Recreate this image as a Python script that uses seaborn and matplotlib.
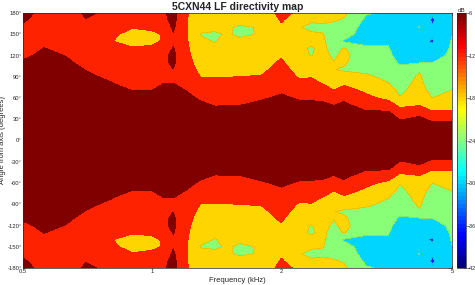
import numpy as np
import matplotlib
matplotlib.use("Agg")
import matplotlib.pyplot as plt
import seaborn as sns
from matplotlib.colors import LinearSegmentedColormap, Normalize

# frequency columns (kHz) and angles (upper half, deg) of the level grid
freq_khz = [0.5, 0.56, 0.63, 0.7, 0.8, 0.9, 1.0, 1.06, 1.12, 1.2, 1.3, 1.4, 1.5, 1.6,
            1.8, 2.0, 2.2, 2.35, 2.5, 2.65, 2.8, 3.15, 3.55, 3.78, 4.2, 4.5, 5.0]
angle_deg = [0, 20, 40, 50, 60, 70, 80, 90, 100, 110, 120, 130, 140, 150, 160, 170, 180]

# relative level in dB, one list per frequency (angles 0..180)
db_0500 = [0, -0.5, -1, -1.5, -2, -2.5, -3, -3.8, -4.6, -5.6, -6.6, -7.5, -8, -7.6, -6.6, -5.6, -4.8]
db_0560 = [0, -0.5, -1, -1.5, -2, -2.5, -3, -3.5, -4, -4.6, -5.3, -5.9, -6.8, -7.5, -7.8, -7.6, -7.2]
db_0630 = [0, -0.5, -1.2, -1.7, -2.3, -2.9, -3.4, -4, -4.7, -5.4, -6.1, -7, -8, -8.6, -8.8, -8.4, -8]
db_0700 = [0, -0.6, -1.5, -2.2, -3, -3.7, -4.5, -5.3, -6.1, -7, -8, -8.8, -9.2, -9, -8, -6.2, -5.4]
db_0800 = [0, -0.8, -2, -3, -4, -4.9, -5.7, -6.7, -8, -9.3, -10.5, -11.4, -11.9, -11.4, -10, -8, -6.8]
db_0900 = [0, -0.8, -2.2, -3.3, -4.5, -6, -7.4, -8.6, -9.6, -10.5, -11.2, -11.8, -12.8, -13, -11.8, -10.5, -9.5]
db_1000 = [0, -0.8, -2.2, -3.3, -4.6, -5.9, -7.2, -8.3, -9.3, -10.2, -11, -11.6, -12.5, -12.6, -11.4, -10, -9]
db_1060 = [0, -0.7, -2, -3, -4, -5, -6, -7, -7.2, -7, -7, -9.5, -11.8, -11.8, -9.5, -7.5, -6.8]
db_1120 = [0, -0.7, -2, -3, -4, -5, -5.9, -6.8, -6.1, -5.2, -5, -5.7, -6.8, -6.3, -5.2, -4.5, -4.2]
db_1200 = [0, -0.8, -2.3, -3.5, -4.7, -6, -7.2, -8.3, -9.2, -10, -10.6, -11, -11.3, -11.5, -11.6, -11.6, -11.5]
db_1300 = [0, -1, -3.5, -5, -6.8, -8.5, -10.3, -12.2, -13.5, -14.5, -15.3, -16, -17, -18.3, -16.5, -15.3, -15]
db_1400 = [0, -1.5, -4.4, -6.3, -7.6, -9, -10.5, -12.1, -13.5, -14.8, -16, -17.1, -18.2, -18.6, -17, -16, -15.5]
db_1500 = [0, -1.5, -4.2, -6.1, -7.5, -9, -10.5, -12.1, -13.3, -14.3, -15.2, -16, -16.8, -17.5, -17.5, -16.5, -16]
db_1600 = [0, -1.5, -4.2, -6.1, -7.5, -9, -10.5, -12, -13.3, -14.3, -15.2, -16, -17.1, -18.8, -18.6, -16.5, -16]
db_1800 = [0, -1.2, -3.5, -4.8, -6.5, -8, -9.5, -11.7, -13, -14, -15, -15.8, -16.5, -17.6, -17.6, -16.5, -15]
db_2000 = [0, -1, -2.8, -3.8, -5.2, -6.6, -7.8, -9, -10, -11.2, -12.5, -13.5, -14, -13.6, -12.7, -11.5, -10.5]
db_2200 = [0, -1.2, -3.3, -4.8, -6.5, -8.2, -10, -12.5, -14, -15.5, -16.5, -17, -17, -17.5, -17.8, -15, -13]
db_2350 = [0, -1.2, -3.5, -5, -6.6, -8.5, -10.5, -12.3, -13.5, -15.5, -18.2, -18.5, -17, -17.5, -18.8, -17.5, -15]
db_2500 = [0, -1.3, -3.8, -5.3, -6.8, -9, -12.1, -13.5, -14.5, -15.5, -16.3, -16.8, -17.3, -17.8, -19, -17, -15]
db_2650 = [0, -1.3, -4, -6.1, -7.5, -11.8, -13.5, -15.5, -17.9, -17.8, -19, -20, -20.5, -20.5, -19.5, -17.5, -16]
db_2800 = [0, -1.3, -3.8, -5.3, -6.7, -9.5, -12.8, -16, -18.5, -17.5, -16.5, -17.5, -24.5, -22, -20, -18.5, -17]
db_3150 = [0, -1.8, -5.6, -7.5, -10.5, -13, -15.5, -17.3, -19, -20.5, -22, -23.3, -25, -26.5, -26.5, -25, -23.5]
db_3550 = [0, -2, -5.5, -9, -13.5, -16, -17.8, -19, -20.3, -21.5, -22.5, -23.5, -24.8, -26, -26.5, -26, -25]
db_3780 = [0, -3.5, -9.2, -13.5, -17.7, -19, -19.8, -20.6, -22.5, -24.8, -26.5, -28, -28.5, -28.5, -28.5, -28, -27.5]
db_4200 = [0, -2.5, -7.5, -12.3, -14, -15.5, -16.5, -17.3, -18.5, -24.3, -27, -28.5, -29, -28.5, -23.8, -27.5, -28]
db_4500 = [0, -3.5, -11.5, -14.5, -18, -20, -21, -22, -23, -23.9, -27, -29, -30.4, -29.5, -29.5, -30.6, -29.5]
db_5000 = [0, -3.5, -11.2, -14, -16.5, -17.7, -19, -20, -21, -22, -22.5, -23, -23.5, -24.2, -25, -26, -26]

columns = [db_0500, db_0560, db_0630, db_0700, db_0800, db_0900, db_1000, db_1060, db_1120,
           db_1200, db_1300, db_1400, db_1500, db_1600, db_1800, db_2000, db_2200, db_2350,
           db_2500, db_2650, db_2800, db_3150, db_3550, db_3780, db_4200, db_4500, db_5000]

contour_levels = [-42, -36, -30, -24, -18, -12, -6]

# the measurement is symmetric, lower half is the mirror of the upper half
upper = np.array(columns).T
ang = np.array(angle_deg)
grid = np.vstack([upper[:0:-1], upper])
angles = np.concatenate([-ang[:0:-1], ang])

sns.set_style("ticks")
plt.rcParams["font.family"] = ["Liberation Sans", "DejaVu Sans"]

# matlab style jet
jet_ml = LinearSegmentedColormap.from_list(
    "jet_ml", [(0, (0, 0, 0.5)), (0.125, (0, 0, 1)), (0.375, (0, 1, 1)),
               (0.625, (1, 1, 0)), (0.875, (1, 0, 0)), (1, (0.5, 0, 0))], N=64)
norm = Normalize(-42, -6)
fill_colors = [jet_ml(norm(v)) for v in contour_levels]

fig = plt.figure(figsize=(4.75, 2.85), dpi=100)
ax = fig.add_axes([23 / 475, 17 / 285, 429 / 475, 255 / 285])
cax = fig.add_axes([457 / 475, 17 / 285, 9 / 475, 255 / 285])

ax.contourf(freq_khz, angles, grid, levels=[-60] + contour_levels[1:] + [1],
            colors=fill_colors)
ax.contour(freq_khz, angles, grid, levels=contour_levels[1:5], colors="#556b2f",
           linewidths=0.3, alpha=0.5)

ax.set_xscale("log")
ax.set_xlim(0.5, 5)
ax.set_ylim(-180, 180)
ax.set_xticks([0.5, 1, 2, 5])
ax.set_xticklabels(["0.5", "1", "2", "5"])
ax.xaxis.set_minor_locator(matplotlib.ticker.NullLocator())
yt = list(range(-180, 181, 30))
ax.set_yticks(yt)
ax.set_yticklabels([f"{v}°" for v in yt])
ax.tick_params(labelsize=4.2, direction="in", length=2.5, width=0.4, pad=1,
               top=True, right=True)
for s in ax.spines.values():
    s.set_linewidth(0.5)

ax.set_xlabel("Frequency (kHz)", fontsize=5.5, labelpad=2)
ax.set_ylabel("Angle from axis (degrees)", fontsize=5.5, labelpad=1)
ax.set_title("5CXN44 LF directivity map", fontsize=7.5, fontweight="bold", pad=2)

sm = plt.cm.ScalarMappable(norm=norm, cmap=jet_ml)
cb = fig.colorbar(sm, cax=cax, ticks=list(range(-42, 0, 6)))
cb.ax.tick_params(labelsize=3.9, direction="in", length=1.5, width=0.4, pad=0.5)
cb.outline.set_linewidth(0.5)
cax.set_title("dB", fontsize=4.5, pad=1)

fig.savefig("out.png", dpi=100)
